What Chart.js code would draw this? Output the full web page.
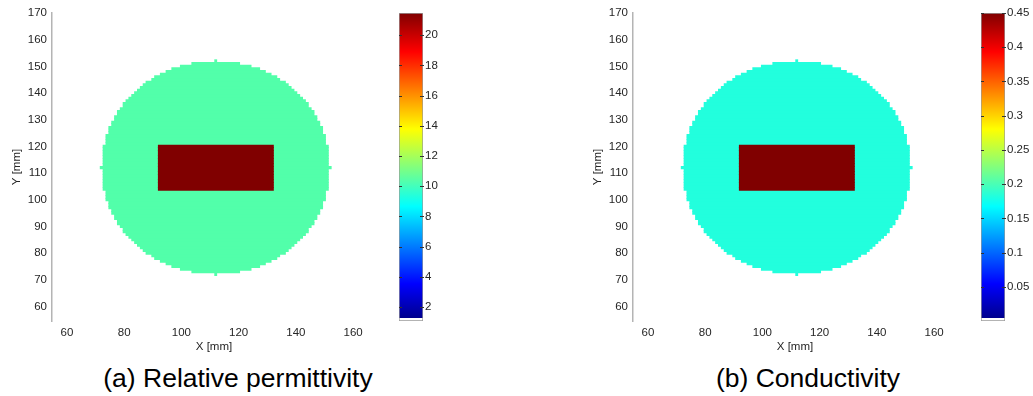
<!DOCTYPE html>
<html><head><meta charset="utf-8">
<script src="https://cdn.jsdelivr.net/npm/chart.js@4.4.0/dist/chart.umd.min.js"></script>
<style>
html,body{margin:0;padding:0;background:#fff;width:1033px;height:396px;overflow:hidden;}
canvas{position:absolute;}
.cap{position:absolute;font-family:Arial,"Liberation Sans",sans-serif;font-size:26.5px;line-height:30px;color:#000;white-space:nowrap;transform:translateX(-50%);top:363px;}
</style></head><body>
<canvas id="mapA" width="400" height="360" style="left:0;top:0"></canvas>
<canvas id="cbA" width="60" height="340" style="left:395px;top:0"></canvas>
<canvas id="mapB" width="400" height="360" style="left:581px;top:0"></canvas>
<canvas id="cbB" width="56" height="340" style="left:977px;top:0"></canvas>
<div class="cap" style="left:238px">(a) Relative permittivity</div>
<div class="cap" style="left:808px">(b) Conductivity</div>
<script>
// ---- data ----
const rowY = [72,73,74,75,76,77,78,79,80,81,82,83,84,85,86,87,88,89,90,91,92,93,94,95,96,97,98,99,100,101,102,103,104,105,106,107,108,109,110,111,112,113,114,115,116,117,118,119,120,121,122,123,124,125,126,127,128,129,130,131,132,133,134,135,136,137,138,139,140,141,142,143,144,145,146,147,148,149,150,151,152];
const circleHalfWidth = [0,8,12,15,17,19,21,22,24,25,26,27,28,29,30,31,32,32,33,34,34,35,35,36,36,37,37,37,38,38,38,38,39,39,39,39,39,39,39,39,40,39,39,39,39,39,39,39,39,38,38,38,38,37,37,37,36,36,35,35,34,34,33,32,32,31,30,29,28,27,26,25,24,22,21,19,17,15,12,8,0];
const circleCenterX = 112;
const rectRowY = [104,105,106,107,108,109,110,111,112,113,114,115,116,117,118,119,120];
const rectX = [91.8, 132.3];
const xTickLabels = [60,80,100,120,140,160];
const yTickLabels = [60,70,80,90,100,110,120,130,140,150,160,170];
const permTicks = [2,4,6,8,10,12,14,16,18,20];
const permRange = [1.07, 21.47];
const condTicks = [0.05,0.1,0.15,0.2,0.25,0.3,0.35,0.4,0.45];
const condRange = [0, 0.45];

const FONT = 'Arial, "Liberation Sans", sans-serif';
const TXT = '#262626';

function makeMap(id, circleColor, rectColor){
  const el = document.getElementById(id);
  const W = el.width, H = el.height;
  const circleData = rowY.map((y,i)=>({y:y, x:[circleCenterX - circleHalfWidth[i] - 0.5, circleCenterX + circleHalfWidth[i] + 0.5]}));
  const rectData = rectRowY.map(y=>({y:y, x:[rectX[0], rectX[1]]}));
  new Chart(el, {
    type:'bar',
    data:{datasets:[
      {data:circleData, backgroundColor:circleColor, borderWidth:0, grouped:false, barPercentage:1.25, categoryPercentage:1, order:2},
      {data:rectData, backgroundColor:rectColor, borderWidth:0, grouped:false, barPercentage:1.25, categoryPercentage:1, order:1}
    ]},
    options:{
      indexAxis:'y', responsive:false, animation:false, events:[],
      layout:{padding:{top:13, right:W-376, left:0, bottom:0}},
      plugins:{legend:{display:false}, tooltip:{enabled:false}},
      scales:{
        x:{type:'linear', min:54.8, max:168, offset:false,
           afterBuildTicks:s=>{s.ticks = xTickLabels.map(v=>({value:v}));},
           afterFit:s=>{s.height = H-321;},
           grid:{display:false, drawTicks:false}, border:{display:false},
           ticks:{padding:5, color:TXT, font:{family:FONT, size:11.5}, maxRotation:0, autoSkip:false},
           title:{display:true, text:'X [mm]', color:TXT, font:{family:FONT, size:11.5}, padding:{top:0,bottom:6}}},
        y:{type:'linear', min:54.5, max:170, offset:false,
           afterBuildTicks:s=>{s.ticks = yTickLabels.map(v=>({value:v}));},
           afterFit:s=>{s.width = 52;},
           grid:{display:false, drawTicks:false, offset:false}, border:{display:true, color:'#b4b4b4', width:1.5},
           ticks:{padding:5, color:TXT, font:{family:FONT, size:11.5}, autoSkip:false},
           title:{display:true, text:'Y [mm]', color:TXT, font:{family:FONT, size:11.5}, padding:{top:10,bottom:0}}}
      }
    }
  });
}

const innerTicks = {
  id:'innerTicks',
  afterDatasetsDraw(chart){
    const {ctx, chartArea:a} = chart; const s = chart.scales.y;
    ctx.save(); ctx.strokeStyle='#333'; ctx.lineWidth=1;
    s.ticks.forEach(t=>{
      const py = Math.round(s.getPixelForValue(t.value))+0.5;
      ctx.beginPath(); ctx.moveTo(a.left, py); ctx.lineTo(a.left+3, py);
      ctx.moveTo(a.right-3, py); ctx.lineTo(a.right+1, py); ctx.stroke();
    });
    ctx.restore();
  }
};

function makeColorbar(id, range, ticks){
  const el = document.getElementById(id);
  const W = el.width, H = el.height;
  new Chart(el, {
    type:'bar',
    data:{labels:['c'], datasets:[{data:[[range[0], range[1]]],
      backgroundColor:(c)=>{
        const a = c.chart.chartArea; if(!a) return '#fff';
        const g = c.chart.ctx.createLinearGradient(0, a.bottom, 0, a.top);
        const w = 0.011, k = f => w + f*(1-w);
        g.addColorStop(0,'#ffffff'); g.addColorStop(w,'#ffffff');
        g.addColorStop(k(0),'#00008F'); g.addColorStop(k(0.111),'#0000FF');
        g.addColorStop(k(0.365),'#00FFFF'); g.addColorStop(k(0.619),'#FFFF00');
        g.addColorStop(k(0.873),'#FF0000'); g.addColorStop(1,'#800000');
        return g;
      },
      borderColor:'#9a9a9a', borderWidth:1, borderSkipped:false, barPercentage:1, categoryPercentage:1}]},
    options:{
      responsive:false, animation:false, events:[],
      layout:{padding:{left:4, top:13, bottom:H-321, right:0}},
      plugins:{legend:{display:false}, tooltip:{enabled:false}},
      scales:{
        x:{display:false},
        y:{position:'right', min:range[0], max:range[1],
           afterBuildTicks:s=>{s.ticks = ticks.map(v=>({value:v}));},
           afterFit:s=>{s.width = W-28;},
           grid:{display:false, drawTicks:false}, border:{display:false},
           ticks:{padding:2, color:TXT, font:{family:FONT, size:11.5}, autoSkip:false, callback:v=>String(v)}}
      }
    },
    plugins:[innerTicks]
  });
}

makeMap('mapA', '#52FFAA', '#800000');
makeMap('mapB', '#22FFDD', '#800000');
makeColorbar('cbA', permRange, permTicks);
makeColorbar('cbB', condRange, condTicks);
</script>
</body></html>
